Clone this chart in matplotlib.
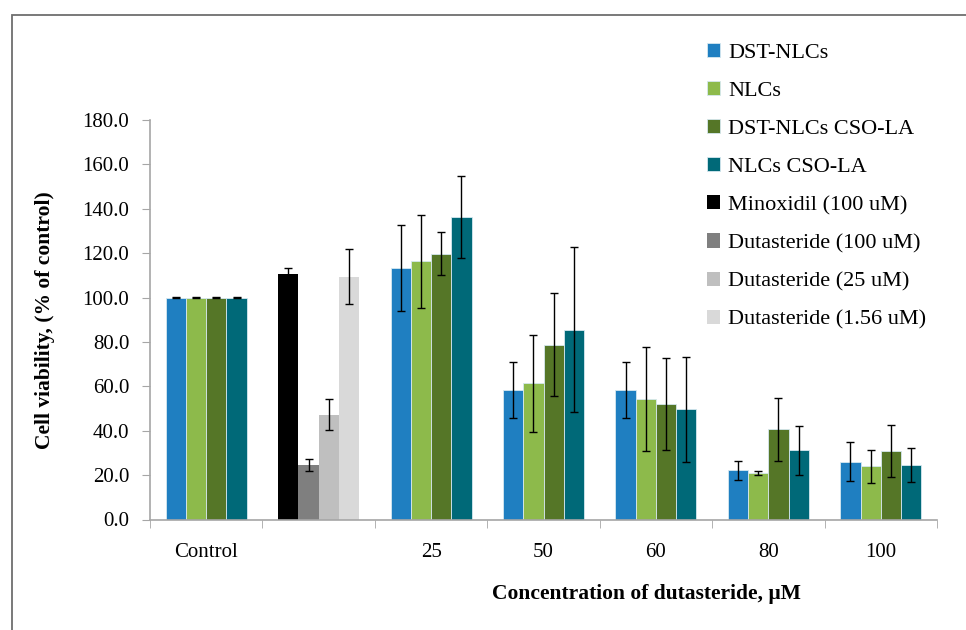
import numpy as np
import matplotlib.pyplot as plt
from matplotlib.patches import Rectangle

# data
groups = ["Control", "", "25", "50", "60", "80", "100"]

series = ["DST-NLCs", "NLCs", "DST-NLCs CSO-LA", "NLCs CSO-LA"]
colors = ["#1f7fc1", "#8dba4b", "#557627", "#006978"]
# values for groups Control, 25, 50, 60, 80, 100
dst_nlcs = [100.0, 113.3, 58.3, 58.3, 22.1, 26.0]
dst_nlcs_err = [0.3, 19.3, 12.7, 12.7, 4.3, 8.8]
nlcs = [100.0, 116.3, 61.3, 54.4, 20.9, 23.9]
nlcs_err = [0.3, 20.8, 22.0, 23.5, 1.0, 7.3]
dst_cso = [100.0, 119.8, 78.8, 52.1, 40.6, 30.7]
dst_cso_err = [0.3, 9.6, 23.2, 20.7, 14.2, 11.7]
nlcs_cso = [100.0, 136.3, 85.6, 49.6, 31.1, 24.7]
nlcs_cso_err = [0.3, 18.3, 37.0, 23.7, 10.9, 7.6]

ref_names = ["Minoxidil (100 uM)", "Dutasteride (100 uM)", "Dutasteride (25 uM)", "Dutasteride (1.56 uM)"]
ref_colors = ["#000000", "#7f7f7f", "#bfbfbf", "#d9d9d9"]
ref_vals = [110.5, 24.5, 47.3, 109.4]
ref_err = [2.8, 2.6, 6.8, 12.5]

plt.rcParams['font.family'] = ['Liberation Serif', 'DejaVu Serif']

fig = plt.figure(figsize=(9.66, 6.3), dpi=100)
ax = fig.add_axes([150/966, 1-519.5/630, 787/966, 399.5/630])

w = 0.18
offs = (np.arange(4) - 1.5) * w
sample_pos = np.array([0, 2, 3, 4, 5, 6])
vals = [dst_nlcs, nlcs, dst_cso, nlcs_cso]
errs = [dst_nlcs_err, nlcs_err, dst_cso_err, nlcs_cso_err]
ekw = dict(ecolor="black", elinewidth=1, capsize=3, capthick=1)

handles = []
for i in range(4):
    h = ax.bar(sample_pos + offs[i], vals[i], w, yerr=errs[i], color=colors[i],
               edgecolor="#d6e8f0", linewidth=0.6, label=series[i], error_kw=ekw)
    handles.append(h)
for i in range(4):
    h = ax.bar(1 + offs[i], ref_vals[i], w, yerr=ref_err[i], color=ref_colors[i],
               edgecolor="none", label=ref_names[i], error_kw=ekw)
    handles.append(h)

ax.set_xlim(-0.5, 6.5)
ax.set_ylim(0, 180)
ax.set_yticks(np.arange(0, 181, 20))
ax.set_yticklabels(["%.1f" % v for v in np.arange(0, 181, 20)], fontsize=15)
ax.set_xticks(range(7))
ax.set_xticklabels(groups, fontsize=15)
ax.set_xticks(np.arange(-0.5, 7, 1), minor=True)
ax.tick_params(axis="x", which="major", length=0, pad=17)
ax.tick_params(axis="x", which="minor", length=6, color="#a6a6a6", direction="out")
ax.tick_params(axis="y", length=6, color="#a6a6a6", pad=9)

for s in ["top", "right"]:
    ax.spines[s].set_visible(False)
for s in ["left", "bottom"]:
    ax.spines[s].set_color("#a6a6a6")
    ax.spines[s].set_linewidth(1.2)

ax.set_ylabel("Cell viability, (% of control)", fontsize=15.5, fontweight="bold", labelpad=20)
fig.text(646/966, 1-594/630, "Concentration of dutasteride, \u00b5M", fontsize=15.5,
         fontweight="bold", ha="center", va="center")

fig.legend(handles=handles, loc="upper left", bbox_to_anchor=(698/966, 1-34/630),
           frameon=False, fontsize=16, handlelength=0.6, handleheight=0.6,
           handletextpad=0.35, labelspacing=0.82, borderaxespad=0)

fig.patches.append(Rectangle((12/966, -0.1), 2, 1.1 - 15/630, transform=fig.transFigure,
                             fill=False, edgecolor="#6e6e6e", linewidth=1.3))

fig.savefig("out.png", dpi=100)
